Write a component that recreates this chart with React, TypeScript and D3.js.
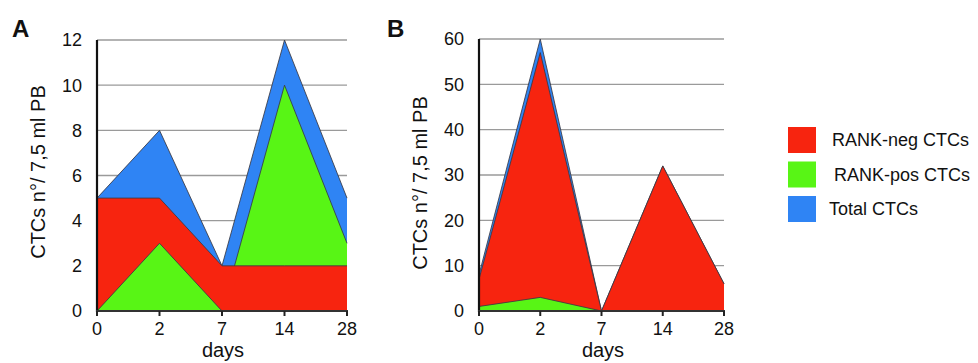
import * as d3 from 'd3';

// days on the x axis (shown as equally spaced categories)
const days = ['0', '2', '7', '14', '28'];

// panel A values
const totalA = [5, 8, 2, 12, 5];
const negA = [5, 5, 2, 2, 2];
const posA = [0, 3, 0, 10, 3];
const ticksA = [0, 2, 4, 6, 8, 10, 12];

// panel B values
const totalB = [8, 60, 0, 32, 6];
const negB = [7, 57, 0, 32, 6];
const posB = [1, 3, 0, 0, 0];
const ticksB = [0, 10, 20, 30, 40, 50, 60];

const legendItems = [
  { label: 'RANK-neg CTCs', color: '#f7240f', dx: 0 },
  { label: 'RANK-pos CTCs', color: '#58f515', dx: 2 },
  { label: 'Total CTCs', color: '#2f84f4', dx: -3 },
];

const RED = '#f7240f';
const GREEN = '#58f515';
const BLUE = '#2f84f4';
const FONT = '"Liberation Sans", Arial, Helvetica, sans-serif';

interface PanelProps {
  id: string;
  letter: string;
  letterX: number;
  x0: number;
  x1: number;
  yTop: number;
  yMax: number;
  ticks: number[];
  total: number[];
  neg: number[];
  pos: number[];
  titleY: number;
  daysX: number;
}

function Panel(p: PanelProps) {
  const yBottom = 311;
  const x = d3.scalePoint<string>().domain(days).range([p.x0, p.x1]);
  const y = d3.scaleLinear().domain([0, p.yMax]).range([yBottom, p.yTop]);

  const area = (vals: number[]) =>
    d3.area<string>()
      .x(d => x(d)!)
      .y0(y(0))
      .y1((_, i) => y(vals[i]))(days)!;
  const line = (vals: number[]) =>
    d3.line<string>()
      .x(d => x(d)!)
      .y((_, i) => y(vals[i]))(days)!;

  const split = x('7')!;

  const layer = (vals: number[], color: string) => (
    <g>
      <path d={area(vals)} fill={color} />
      <path d={line(vals)} fill="none" stroke="#3a3a44" strokeWidth={1} strokeOpacity={0.85} />
    </g>
  );

  return (
    <g>
      <defs>
        <clipPath id={`${p.id}-left`}>
          <rect x={p.x0} y={0} width={split - p.x0} height={yBottom + 1} />
        </clipPath>
        <clipPath id={`${p.id}-right`}>
          <rect x={split} y={0} width={p.x1 - split + 1} height={yBottom + 1} />
        </clipPath>
      </defs>

      {/* grid */}
      {p.ticks.filter(t => t > 0).map(t => (
        <line key={t} x1={p.x0} x2={p.x1} y1={y(t)} y2={y(t)} stroke="#9a9a9a" strokeWidth={1.4} />
      ))}

      {/* left part: green in front of red */}
      <g clipPath={`url(#${p.id}-left)`}>
        {layer(p.total, BLUE)}
        {layer(p.neg, RED)}
        {layer(p.pos, GREEN)}
      </g>
      {/* right part: red in front of green */}
      <g clipPath={`url(#${p.id}-right)`}>
        {layer(p.total, BLUE)}
        {layer(p.pos, GREEN)}
        {layer(p.neg, RED)}
      </g>

      {/* axes */}
      <line x1={p.x0} x2={p.x0} y1={p.yTop} y2={yBottom + 1} stroke="#111" strokeWidth={2.2} />
      <line x1={p.x0 - 1} x2={p.x1 + 1} y1={yBottom} y2={yBottom} stroke="#333" strokeWidth={2.2} />
      {days.map(d => (
        <line key={d} x1={x(d)} x2={x(d)} y1={yBottom} y2={yBottom + 5} stroke="#222" strokeWidth={2} />
      ))}

      {p.ticks.map(t => (
        <text key={t} x={p.x0 - 15} y={y(t)} dy="0.36em" textAnchor="end" fontSize={18} fill="#111">{t}</text>
      ))}
      {days.map(d => (
        <text key={d} x={x(d)} y={335} textAnchor="middle" fontSize={18} fill="#111">{d}</text>
      ))}

      <text x={p.daysX} y={357} textAnchor="middle" fontSize={20} fill="#111">days</text>
      <text transform={`translate(${p.x0 - 52},${p.titleY}) rotate(-90)`} textAnchor="middle" fontSize={20} fill="#111">
        CTCs n°/ 7,5 ml PB
      </text>
      <text x={p.letterX} y={37} fontSize={24} fontWeight="bold" fill="#111">{p.letter}</text>
    </g>
  );
}

export default function App() {
  return (
    <svg width={978} height={363} style={{ position: 'fixed', left: 0, top: 0, background: '#fff' }} fontFamily={FONT}>
      <rect width={978} height={363} fill="#fff" />
      <Panel id="pa" letter="A" letterX={12} x0={97} x1={347} yTop={40} yMax={12} ticks={ticksA}
        total={totalA} neg={negA} pos={posA} titleY={172} daysX={223} />
      <Panel id="pb" letter="B" letterX={387} x0={479} x1={724} yTop={39} yMax={60} ticks={ticksB}
        total={totalB} neg={negB} pos={posB} titleY={183} daysX={603} />
      {legendItems.map((item, i) => (
        <g key={item.label} transform={`translate(788,${127 + i * 34.5})`}>
          <rect width={28} height={26} fill={item.color} />
          <text x={44 + item.dx} y={13} dy="0.36em" fontSize={18} fill="#111">{item.label}</text>
        </g>
      ))}
    </svg>
  );
}
